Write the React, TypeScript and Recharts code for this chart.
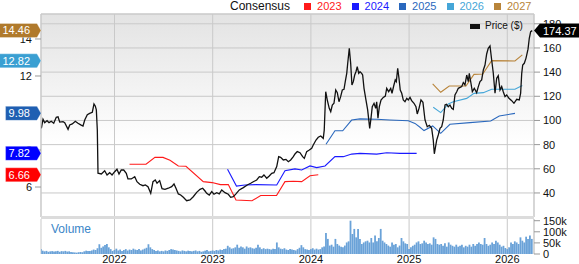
import React from "react"
import {
  Bar,
  BarChart,
  CartesianGrid,
  ComposedChart,
  Line,
  ReferenceLine,
  XAxis,
  YAxis
} from "recharts"

const yearTicks = [2022, 2023, 2024, 2025, 2026]
const priceTicks = [40, 60, 80, 100, 120, 140, 160, 180]
const epsTicks = [6, 8, 10, 12, 14]
const volumeTicks = [0, 50, 100, 150]

const priceDates = [
  2021.255, 2021.272, 2021.289, 2021.313, 2021.333, 2021.356, 2021.381, 2021.407, 2021.425, 2021.442,
  2021.476, 2021.493, 2021.527, 2021.544, 2021.57, 2021.601, 2021.628, 2021.656, 2021.679, 2021.697,
  2021.723, 2021.747, 2021.774, 2021.791, 2021.804, 2021.815, 2021.825, 2021.832, 2021.866, 2021.9,
  2021.924, 2021.951, 2021.975, 2022.002, 2022.025, 2022.046, 2022.069, 2022.094, 2022.12, 2022.137,
  2022.171, 2022.206, 2022.229, 2022.257, 2022.29, 2022.314, 2022.341, 2022.369, 2022.392, 2022.415,
  2022.433, 2022.46, 2022.484, 2022.514, 2022.548, 2022.582, 2022.606, 2022.626, 2022.65, 2022.674,
  2022.701, 2022.735, 2022.769, 2022.802, 2022.837, 2022.871, 2022.898, 2022.922, 2022.939, 2022.965,
  2022.99, 2023.013, 2023.041, 2023.067, 2023.092, 2023.125, 2023.159, 2023.183, 2023.21, 2023.237,
  2023.271, 2023.312, 2023.352, 2023.387, 2023.413, 2023.448, 2023.475, 2023.499, 2023.522, 2023.55,
  2023.576, 2023.601, 2023.624, 2023.652, 2023.672, 2023.692, 2023.719, 2023.746, 2023.77, 2023.794,
  2023.821, 2023.838, 2023.861, 2023.889, 2023.916, 2023.933, 2023.957, 2023.984, 2024.008, 2024.024,
  2024.052, 2024.075, 2024.1, 2024.126, 2024.136, 2024.151, 2024.167, 2024.187, 2024.202, 2024.218,
  2024.235, 2024.253, 2024.269, 2024.286, 2024.303, 2024.32, 2024.337, 2024.35, 2024.365, 2024.375,
  2024.391, 2024.405, 2024.418, 2024.432, 2024.446, 2024.459, 2024.472, 2024.487, 2024.5, 2024.517,
  2024.527, 2024.541, 2024.561, 2024.578, 2024.599, 2024.612, 2024.625, 2024.643, 2024.66, 2024.67,
  2024.683, 2024.697, 2024.714, 2024.737, 2024.758, 2024.772, 2024.792, 2024.813, 2024.826, 2024.843,
  2024.859, 2024.87, 2024.884, 2024.897, 2024.91, 2024.925, 2024.941, 2024.958, 2024.976, 2024.992,
  2025.009, 2025.026, 2025.05, 2025.07, 2025.083, 2025.101, 2025.121, 2025.141, 2025.162, 2025.185,
  2025.206, 2025.23, 2025.246, 2025.257, 2025.281, 2025.297, 2025.315, 2025.332, 2025.348, 2025.366,
  2025.381, 2025.399, 2025.416, 2025.434, 2025.45, 2025.467, 2025.485, 2025.501, 2025.536, 2025.552,
  2025.569, 2025.587, 2025.603, 2025.613, 2025.63, 2025.644, 2025.664, 2025.688, 2025.705, 2025.722,
  2025.739, 2025.756, 2025.773, 2025.79, 2025.806, 2025.824, 2025.841, 2025.857, 2025.875, 2025.892,
  2025.908, 2025.926, 2025.943, 2025.959, 2025.977, 2025.994, 2026.017, 2026.045, 2026.068, 2026.096,
  2026.122, 2026.136, 2026.147, 2026.157, 2026.173, 2026.19, 2026.211, 2026.224, 2026.238, 2026.254
]

const priceValues = [
  93.5, 101, 98.2, 99.8, 98.2, 99.3, 97.7, 102.6, 103.1, 98.7,
  99, 98.2, 92.7, 96.3, 97.1, 99.3, 97.7, 96.3, 95.4, 100.4,
  104.8, 105.9, 106.8, 113.6, 112, 108.7, 92.1, 56.3, 55.7, 58.4,
  54.9, 56.8, 54.9, 57.6, 59.6, 55.7, 59, 59, 56.3, 51.6,
  51.6, 53.5, 49.3, 47.2, 46, 46.6, 45.2, 39.7, 49.3, 50.7,
  48, 50.2, 43.5, 43, 43.9, 45.2, 47.4, 43.9, 39.2, 38.3,
  36.4, 33.6, 34.2, 36.9, 40.5, 43, 43.9, 41.6, 39.7, 38.3,
  41.1, 38.9, 40.2, 39.2, 42.5, 40.2, 38.9, 36.4, 36.9, 39.2,
  42.5, 44.4, 46.6, 48, 49.3, 50.7, 53.5, 53, 54.9, 52.2,
  54.1, 56.3, 56.8, 61.8, 70, 69.5, 67.3, 67.8, 65.9, 67.3,
  70, 72.3, 74.2, 73.3, 70, 68.6, 74.2, 75.6, 77, 79.7,
  83.8, 86.1, 87.2, 85.2, 92.1, 123.8, 116.9, 110, 107.3, 112.8,
  114.2, 125.2, 123, 115.5, 119.7, 125.2, 125.8, 132.1, 139, 147.3,
  159.7, 147.3, 129.4, 132.1, 137.6, 140.3, 144.5, 139, 140.3, 139,
  137.6, 126.6, 116.9, 108.7, 93.5, 101.8, 111.4, 114.2, 110, 115.5,
  101.8, 111.4, 116.9, 119.1, 120.2, 126.6, 123.8, 126.6, 122.5, 128.5,
  133.5, 132.1, 143.2, 134.9, 125.2, 122.5, 116.9, 115.5, 118.3, 116.9,
  119.1, 116.4, 114.2, 111.4, 105.4, 110, 117, 115, 100.4, 94.8,
  96, 93.5, 83.8, 72.4, 83.8, 88, 93.5, 94.8, 100.4, 112.8,
  113.4, 111.4, 112.8, 110, 109.2, 121.1, 123.8, 126.6, 128, 131.3,
  129.4, 137.6, 132.1, 139, 130.8, 123.8, 126.6, 123, 128, 132.1,
  133.5, 141.8, 145.9, 155, 159.7, 161.6, 150, 139.5, 122.5, 134.9,
  137, 125.2, 128, 123.8, 119.7, 121.1, 118.3, 116.4, 114.2, 117.5,
  117, 122.5, 139, 145.9, 147.3, 151.4, 159, 168, 173.5, 174.37
]

// consensus EPS estimates per fiscal year
const eps2023Dates = [2022.153, 2022.321, 2022.412, 2022.494, 2022.565, 2022.65, 2022.728, 2022.904, 2022.993, 2023.079, 2023.159, 2023.237, 2023.4, 2023.489, 2023.65, 2023.736, 2023.821, 2023.906, 2023.991, 2024.075]
const eps2023Values = [7.23, 7.23, 7.6, 7.6, 7.45, 7.14, 7.12, 6.29, 6.24, 6.13, 6.13, 5.3, 5.26, 5.54, 5.54, 6.29, 6.31, 6.29, 6.61, 6.66]

const eps2024Dates = [2023.151, 2023.242, 2023.329, 2023.441, 2023.652, 2023.736, 2023.838, 2023.906, 2023.991, 2024.059, 2024.144, 2024.245, 2024.33, 2024.415, 2024.5, 2024.67, 2024.772, 2024.907, 2025.077]
const eps2024Values = [6.96, 6.05, 6.11, 6.13, 6.11, 6.88, 6.98, 6.92, 7.14, 7.05, 7.14, 7.64, 7.64, 7.78, 7.82, 7.78, 7.85, 7.82, 7.82]

const eps2025Dates = [2024.154, 2024.245, 2024.324, 2024.415, 2024.5, 2024.67, 2024.805, 2024.992, 2025.06, 2025.111, 2025.152, 2025.24, 2025.322, 2025.416, 2025.62, 2025.831, 2025.918, 2026.078]
const eps2025Values = [8.31, 9.04, 9.04, 9.62, 9.68, 9.66, 9.62, 9.58, 9.44, 9.23, 9.05, 9.3, 8.9, 9.39, 9.48, 9.57, 9.84, 9.98]

const eps2026Dates = [2025.246, 2025.322, 2025.399, 2025.45, 2025.587, 2025.661, 2025.756, 2025.841, 2026.078, 2026.153]
const eps2026Values = [10.31, 10.02, 10.49, 10.61, 10.79, 11.06, 11.1, 11.28, 11.28, 11.48]

const eps2027Dates = [2025.24, 2025.322, 2025.409, 2025.579, 2025.661, 2025.75, 2025.841, 2026.078, 2026.153]
const eps2027Values = [11.57, 11.12, 11.46, 11.46, 12.09, 12.11, 12.83, 12.81, 13.14]

const consensusYears = ["2023", "2024", "2025", "2026", "2027"]
const consensusColors = ["#ff1a1a", "#1a1aff", "#2a68bd", "#45a6d8", "#b8843a"]
const tagColors = ["#ff0000", "#0000ff", "#1f5fb2", "#3a9fd2", "#b07a2c"]
const consensusLatest = [6.66, 7.82, 9.98, 12.82, 14.46]
const lastPrice = 174.37

// weekly volume in thousands, from April 2021
const volumeStart = 2021.25
const volume2021 = [22, 15, 12, 14, 10, 12, 13, 11, 12, 14, 10, 13, 12, 14, 11, 12, 9, 8, 7, 6, 8, 9, 8, 12, 15, 13, 14, 16, 20, 18, 26, 44, 28, 34, 40, 45, 30, 22, 14]
const volume2022 = [18, 24, 16, 20, 14, 18, 22, 16, 20, 18, 24, 20, 18, 22, 16, 20, 24, 28, 44, 30, 22, 18, 14, 16, 12, 14, 12, 16, 14, 18, 22, 20, 18, 16, 14, 12, 16, 14, 12, 15, 14, 12, 14, 16, 12, 14, 10, 12, 15, 18, 12, 14]
const volume2023 = [16, 14, 18, 16, 20, 18, 22, 24, 37, 30, 24, 26, 30, 42, 28, 34, 30, 24, 34, 28, 30, 26, 24, 28, 42, 30, 22, 26, 22, 24, 22, 20, 24, 22, 52, 30, 24, 22, 26, 20, 18, 22, 20, 18, 16, 22, 28, 40, 30, 22, 20, 18]
const volume2024 = [22, 26, 20, 24, 20, 22, 30, 34, 95, 68, 38, 42, 33, 68, 45, 38, 33, 30, 38, 52, 57, 150, 90, 113, 75, 113, 68, 45, 52, 57, 60, 52, 72, 52, 83, 57, 72, 113, 60, 52, 45, 38, 33, 52, 42, 45, 30, 38, 72, 57, 48, 45]
const volume2025 = [22, 30, 37, 42, 52, 57, 45, 48, 60, 52, 45, 48, 42, 75, 68, 45, 42, 45, 37, 48, 33, 52, 42, 37, 33, 42, 33, 37, 42, 30, 37, 33, 42, 33, 45, 37, 45, 52, 45, 42, 72, 45, 37, 42, 52, 45, 60, 52, 42, 33, 37, 27]
const volume2026 = [22, 30, 52, 45, 57, 52, 45, 75, 60, 52, 78, 68, 83, 68]

const font = "'Liberation Sans', Arial, Helvetica, sans-serif"

const toPoints = (dates: number[], values: number[]) =>
  dates.map((t, i) => ({ t, v: values[i] }))

const priceData = toPoints(priceDates, priceValues)
const epsSeries = [
  toPoints(eps2023Dates, eps2023Values),
  toPoints(eps2024Dates, eps2024Values),
  toPoints(eps2025Dates, eps2025Values),
  toPoints(eps2026Dates, eps2026Values),
  toPoints(eps2027Dates, eps2027Values)
]
const volumeData = [...volume2021, ...volume2022, ...volume2023, ...volume2024, ...volume2025, ...volume2026]
  .map((v, i) => ({ t: volumeStart + i / 52, v }))

const timeDomain = [2021.2515, 2026.272]
const epsDomain = [4.38, 15.35]
const priceDomain = [20.1, 188.1]

const LeftTag = (props: any) => {
  const { viewBox, text, color } = props
  if (!viewBox) return null
  const tip = viewBox.x
  const y = viewBox.y
  const textW = text.replace(".", "").length * 6.12 + 3.06
  const left = tip - 14 - textW
  const pts = `${left},${y - 7} ${tip - 4},${y - 7} ${tip},${y} ${tip - 4},${y + 7} ${left},${y + 7}`
  return (
    <g>
      <polygon points={pts} fill={color} stroke="rgba(255,255,255,0.6)" strokeWidth={0.5} />
      <text x={tip - 11} y={y + 4} textAnchor="end" fill="#fff" fontSize={11} fontFamily={font}>{text}</text>
    </g>
  )
}

const PriceTag = (props: any) => {
  const { viewBox, text } = props
  if (!viewBox) return null
  const tip = viewBox.x + viewBox.width
  const y = viewBox.y
  const pts = `${tip},${y} ${tip + 6},${y - 7} 579,${y - 7} 579,${y + 7} ${tip + 6},${y + 7}`
  return (
    <g>
      <polygon points={pts} fill="#000" />
      <text x={tip + 9} y={y + 4} fill="#fff" fontSize={11} fontFamily={font}>{text}</text>
    </g>
  )
}

const tickStyle = { fontSize: 11, fill: "#111", fontFamily: font }

const App = () => {
  return (
    <div style={{ position: "absolute", left: 0, top: 0, width: 579, height: 264, background: "#fff", fontFamily: font, overflow: "hidden" }}>
      <div style={{ position: "absolute", left: 0, top: 0 }}>
        <ComposedChart width={579} height={219} margin={{ top: 14, right: 0, bottom: 2, left: 0 }}>
          <defs>
            <linearGradient id="priceBg" x1="0" y1="0" x2="0" y2="1">
              <stop offset="0%" stopColor="#e3e3e3" />
              <stop offset="65%" stopColor="#ffffff" />
              <stop offset="100%" stopColor="#ffffff" />
            </linearGradient>
          </defs>
          <CartesianGrid yAxisId="price" stroke="#c9c9c9" fill="url(#priceBg)" fillOpacity={1} />
          <XAxis type="number" dataKey="t" domain={timeDomain} ticks={yearTicks} hide allowDataOverflow />
          <YAxis
            yAxisId="eps"
            orientation="left"
            width={41}
            domain={epsDomain}
            ticks={epsTicks}
            interval={0}
            allowDataOverflow
            tick={tickStyle}
            tickSize={6}
            tickMargin={3}
            tickLine={{ stroke: "#999" }}
            axisLine={{ stroke: "#c9c9c9" }}
          />
          <YAxis
            yAxisId="price"
            orientation="right"
            width={45}
            domain={priceDomain}
            ticks={priceTicks}
            interval={0}
            allowDataOverflow
            tick={tickStyle}
            tickSize={6}
            tickMargin={3}
            tickLine={{ stroke: "#999" }}
            axisLine={{ stroke: "#c9c9c9" }}
          />
          <ReferenceLine yAxisId="price" y={188.1} stroke="#c9c9c9" />
          {epsSeries.map((d, i) => (
            <Line
              key={consensusYears[i]}
              yAxisId="eps"
              data={d}
              dataKey="v"
              type="linear"
              stroke={consensusColors[i]}
              strokeWidth={1.1}
              dot={false}
              isAnimationActive={false}
            />
          ))}
          <Line
            yAxisId="price"
            data={priceData}
            dataKey="v"
            type="linear"
            stroke="#111"
            strokeWidth={1.3}
            dot={false}
            isAnimationActive={false}
          />
        </ComposedChart>
      </div>

      {/* value tags drawn on a transparent twin so they sit above the tick labels */}
      <div style={{ position: "absolute", left: 0, top: 0 }}>
        <ComposedChart width={579} height={219} margin={{ top: 14, right: 45, bottom: 2, left: 41 }}>
          <XAxis type="number" dataKey="t" domain={timeDomain} hide allowDataOverflow />
          <YAxis yAxisId="eps" domain={epsDomain} hide allowDataOverflow />
          <YAxis yAxisId="price" orientation="right" domain={priceDomain} hide allowDataOverflow />
          {consensusLatest.map((v, i) => (
            <ReferenceLine
              key={"tag" + i}
              yAxisId="eps"
              y={v}
              stroke="none"
              label={<LeftTag text={v.toFixed(2)} color={tagColors[i]} />}
            />
          ))}
          <ReferenceLine
            yAxisId="price"
            y={lastPrice}
            stroke="none"
            label={<PriceTag text={lastPrice.toFixed(2)} />}
          />
        </ComposedChart>
      </div>

      <div style={{ position: "absolute", left: 0, top: 216 }}>
        <BarChart width={579} height={54} data={volumeData} margin={{ top: 3, right: 0, bottom: 0, left: 41 }}>
          <CartesianGrid horizontal={false} stroke="#c9c9c9" />
          <XAxis
            type="number"
            dataKey="t"
            domain={timeDomain}
            ticks={yearTicks}
            interval={0}
            allowDataOverflow
            height={16}
            tickSize={0}
            tickMargin={1}
            axisLine={false}
            tickLine={false}
            tick={tickStyle}
          />
          <YAxis
            orientation="right"
            width={45}
            domain={[0, 157.7]}
            ticks={volumeTicks}
            interval={0}
            allowDataOverflow
            tickFormatter={(v: number) => (v === 0 ? "0" : v + "k")}
            tick={tickStyle}
            tickSize={6}
            tickMargin={3}
            tickLine={{ stroke: "#999" }}
            axisLine={{ stroke: "#c9c9c9" }}
          />
          <Bar dataKey="v" fill="#6aa2d8" barSize={1.8} isAnimationActive={false} />
        </BarChart>
      </div>

      <div style={{ position: "absolute", left: 41, top: 216, width: 493, height: 3, background: "#dcdcdc" }} />

      <div style={{ position: "absolute", left: 51, top: 223, fontSize: 12, lineHeight: "12px", color: "#3b86c8" }}>Volume</div>

      <div style={{ position: "absolute", left: 230, top: 0, height: 12, display: "flex", alignItems: "center", whiteSpace: "nowrap" }}>
        <span style={{ fontSize: 12, color: "#111", marginRight: 14 }}>Consensus</span>
        {consensusYears.map((y, i) => (
          <span key={y} style={{ display: "flex", alignItems: "center" }}>
            <span style={{ width: 7, height: 7, background: consensusColors[i], marginRight: 6 }} />
            <span style={{ fontSize: 11, color: consensusColors[i], marginRight: 10 }}>{y}</span>
          </span>
        ))}
      </div>

      <div style={{ position: "absolute", left: 470, top: 21, display: "flex", alignItems: "center", whiteSpace: "nowrap" }}>
        <span style={{ width: 10, height: 5, background: "#111", marginRight: 5 }} />
        <span style={{ fontSize: 10, lineHeight: "10px", color: "#111" }}>Price ($)</span>
      </div>
    </div>
  )
}

export default App
